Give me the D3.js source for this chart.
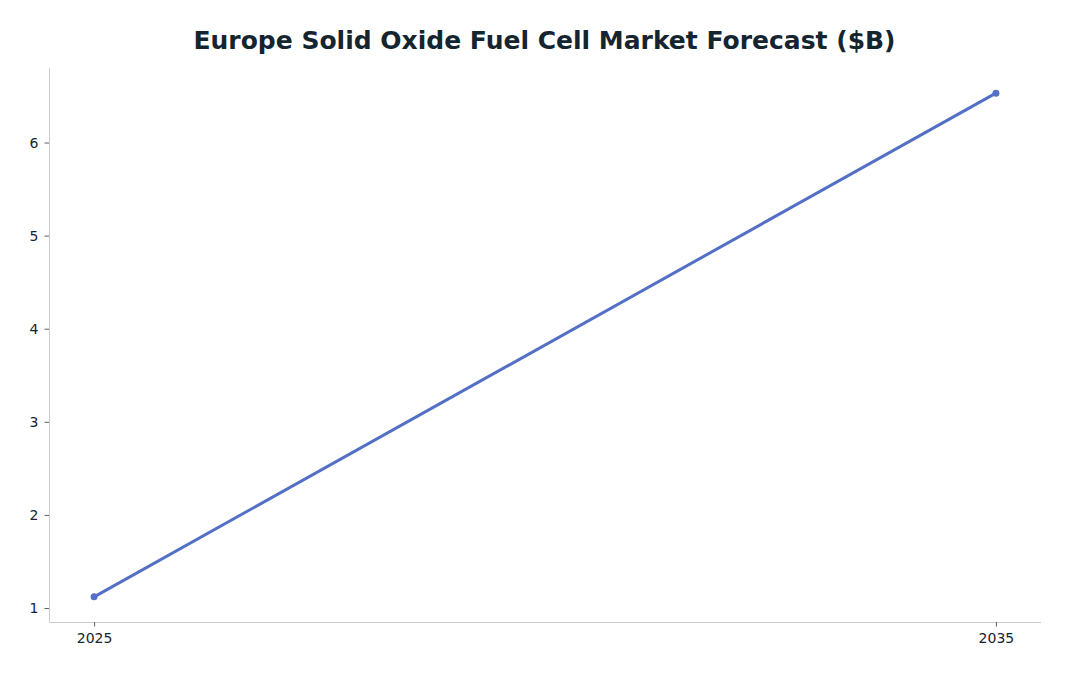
<!DOCTYPE html>
<html><head><meta charset="utf-8">
<script src="https://cdn.jsdelivr.net/npm/d3@7"></script>
<style>body{margin:0;background:#fff}</style>
</head><body>
<svg id="c" width="1070" height="676"></svg>
<script>
const title = "Europe Solid Oxide Fuel Cell Market Forecast ($B)";
const years = [2025, 2035];
const values = [1.12, 6.53];
const yTicks = [1, 2, 3, 4, 5, 6];
const xTicks = [2025, 2035];

const svg = d3.select("#c");
const L = 49, R = 1041, T = 68, B = 622;
const x = d3.scaleLinear().domain([2024.5, 2035.5]).range([L, R]);
const y = d3.scaleLinear().domain([0.8495, 6.8005]).range([B, T]);

svg.append("text").attr("x", 544.5).attr("y", 49).attr("text-anchor", "middle")
  .attr("font-family", "DejaVu Sans").attr("font-weight", "bold").attr("font-size", 25)
  .attr("fill", "#15252f").text(title);

const ax = svg.append("g").attr("transform", `translate(0,${B})`)
  .call(d3.axisBottom(x).tickValues(xTicks).tickFormat(d3.format("d")).tickSize(4.5).tickPadding(7));
const ay = svg.append("g").attr("transform", `translate(${L},0)`)
  .call(d3.axisLeft(y).tickValues(yTicks).tickFormat(d3.format("d")).tickSize(4.5).tickPadding(6));
[ax, ay].forEach(g => {
  g.select(".domain").attr("stroke", "#c8cdd1").attr("stroke-width", 1);
  g.selectAll(".tick line").attr("stroke", "#5a646b");
  g.selectAll(".tick text").attr("font-family", "DejaVu Sans").attr("font-size", 14).attr("fill", "#15252f");
});
ax.select(".domain").attr("d", `M${L},0.5H${R}`);
ay.select(".domain").attr("d", `M0.5,${T}V${B}`);

const data = years.map((d, i) => ({x: d, y: values[i]}));
svg.append("path").datum(data)
  .attr("d", d3.line().x(d => x(d.x)).y(d => y(d.y)))
  .attr("fill", "none").attr("stroke", "#5470c6").attr("stroke-width", 3);
svg.selectAll("circle").data(data).enter().append("circle")
  .attr("cx", d => x(d.x)).attr("cy", d => y(d.y)).attr("r", 3.5).attr("fill", "#5470c6");
</script>
</body></html>
